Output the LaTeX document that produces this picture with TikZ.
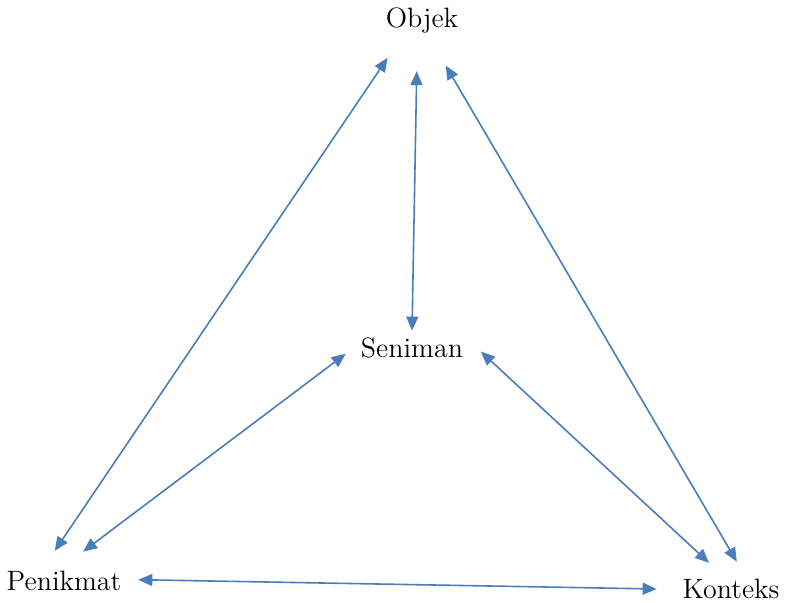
\documentclass[tikz,border=0pt]{standalone}
\usetikzlibrary{arrows.meta,shapes.geometric}
\definecolor{linkblue}{RGB}{74,126,187}
\begin{document}
\begin{tikzpicture}[x=0.5pt,y=-0.5pt,>={Triangle[length=7pt,width=6pt]}]
	\tikzset{
		item/.style={ellipse, inner sep=0pt},
		every label/.style={font=\fontsize{14}{17}\selectfont},
		link/.style={<->, draw=linkblue, line width=0.8pt}
	}
	\useasboundingbox (0,0) rectangle (785,603);

	\node (objek)		at (422,21) [item, minimum width=50pt, minimum height=50pt, label=center:Objek] {};
	\node (seniman)		at (412,348) [item, minimum width=70pt, minimum height=17pt, label=center:Seniman] {};

	\node (penikmat)	at (64,581) [item, minimum width=74pt, minimum height=30pt, label=center:Penikmat] {};
	\node (konteks)		at (731,589) [item, minimum width=74pt, minimum height=27pt, label=center:Konteks] {};


	\path (objek.227)		edge[link] (penikmat.107)
		(objek.264)			edge[link] (seniman.north)
		(objek.298)			edge[link] (konteks.78)
		(seniman.185)		edge[link] (penikmat.57)
		(seniman.-3)		edge[link] (konteks.130)
		(penikmat.1)		edge[link] (konteks.west);
\end{tikzpicture}
\end{document}
